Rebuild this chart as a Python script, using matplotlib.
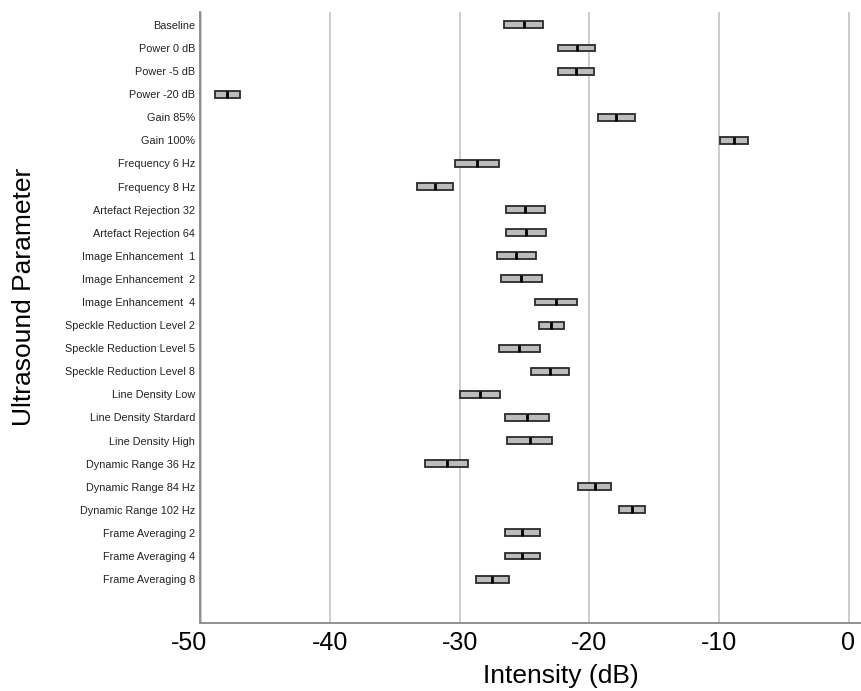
import matplotlib
matplotlib.use("Agg")
import matplotlib.pyplot as plt
import matplotlib.transforms as mtransforms
from matplotlib import font_manager

categories = ["Baseline", "Power 0 dB", "Power -5 dB", "Power -20 dB", "Gain 85%",
              "Gain 100%", "Frequency 6 Hz", "Frequency 8 Hz", "Artefact Rejection 32",
              "Artefact Rejection 64", "Image Enhancement  1", "Image Enhancement  2",
              "Image Enhancement  4", "Speckle Reduction Level 2", "Speckle Reduction Level 5",
              "Speckle Reduction Level 8", "Line Density Low", "Line Density Stardard",
              "Line Density High", "Dynamic Range 36 Hz", "Dynamic Range 84 Hz",
              "Dynamic Range 102 Hz", "Frame Averaging 2", "Frame Averaging 4",
              "Frame Averaging 8"]
q1 = [-26.56, -22.44, -22.44, -48.9, -19.33, -9.89, -30.36, -33.32, -26.43, -26.43,
      -27.12, -26.79, -24.19, -23.9, -26.97, -24.52, -30.0, -26.53, -26.33, -32.65,
      -20.85, -17.71, -26.53, -26.53, -28.74]
median = [-25.04, -20.97, -21.05, -47.96, -17.94, -8.86, -28.66, -31.9, -24.94, -24.91,
          -25.63, -25.25, -22.57, -22.93, -25.4, -23.03, -28.43, -24.83, -24.6, -31.0,
          -19.58, -16.7, -25.17, -25.17, -27.48]
q3 = [-23.55, -19.54, -19.66, -46.98, -16.5, -7.78, -26.94, -30.52, -23.39, -23.36,
      -24.09, -23.67, -20.93, -21.95, -23.83, -21.59, -26.87, -23.13, -22.9, -29.38,
      -18.35, -15.71, -23.78, -23.78, -26.22]
xticks = [-50, -40, -30, -20, -10, 0]
xlabel = "Intensity (dB)"
ylabel = "Ultrasound Parameter"

names = {f.name for f in font_manager.fontManager.ttflist}
narrow = "Liberation Sans Narrow" if "Liberation Sans Narrow" in names else "Liberation Sans"
narrow_size = 9 if narrow == "Liberation Sans Narrow" else 7.8

plt.rcParams['font.family'] = ['Liberation Sans', 'DejaVu Sans']

W, H = 862, 691
fig = plt.figure(figsize=(W / 100, H / 100), dpi=100)
left_px, right_px, top_px, bot_px = 200.5, 862, 12, 622.7
ax = fig.add_axes([left_px / W, 1 - bot_px / H, (right_px - left_px) / W, (bot_px - top_px) / H])

stats = []
for c, a, m, b in zip(categories, q1, median, q3):
    stats.append(dict(label=c, q1=a, med=m, q3=b, whislo=a, whishi=b, fliers=[]))
positions = list(range(len(categories)))
ax.bxp(stats, positions=positions, orientation='horizontal', widths=0.3,
       patch_artist=True, showcaps=False, showfliers=False,
       boxprops=dict(facecolor='#bcbcbc', edgecolor='#2a2a2a', linewidth=1.3),
       medianprops=dict(color='black', linewidth=2.0),
       whiskerprops=dict(linewidth=0))

px_per_unit = 12.96
ax.set_xlim(-50, -50 + (right_px - left_px) / px_per_unit)
ax.set_ylim(len(categories) - 1 + 1.89, -0.56)
ax.set_xticks(xticks)
ax.set_xticklabels([str(t) for t in xticks], fontsize=18)
ax.set_yticks(positions)
ax.set_yticklabels(categories, fontsize=narrow_size, family=narrow, color='#222222')
ax.tick_params(axis='both', length=0)
ax.tick_params(axis='x', pad=6)
ax.tick_params(axis='y', pad=4)

# shift first x tick label slightly left as in reference
lbl0 = ax.get_xticklabels()[0]
lbl0.set_transform(lbl0.get_transform() + mtransforms.ScaledTranslation(-12 / 100, 0, fig.dpi_scale_trans))

ax.grid(axis='x', color='#cccccc', linewidth=1.4)
ax.set_axisbelow(True)
for s in ['top', 'right']:
    ax.spines[s].set_visible(False)
for s in ['left', 'bottom']:
    ax.spines[s].set_color('#888888')
    ax.spines[s].set_linewidth(1.3)

fig.text(561 / W, 1 - 676 / H, xlabel, fontsize=19, ha='center', va='center')
fig.text(24 / W, 1 - 297 / H, ylabel, fontsize=19, ha='center', va='center', rotation=90)

fig.savefig("out.png", dpi=100)
